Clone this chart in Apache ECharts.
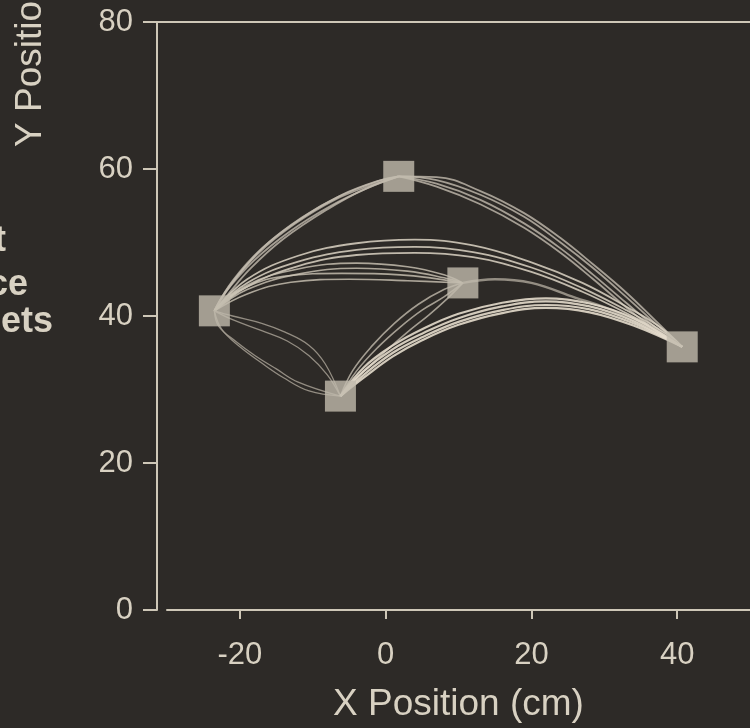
<!DOCTYPE html>
<html>
<head>
<meta charset="utf-8">
<script src="https://cdn.jsdelivr.net/npm/echarts@6/dist/echarts.min.js"></script>
<style>
  html, body { margin: 0; padding: 0; background: #2d2a27; }
  #chart { width: 750px; height: 728px; }
</style>
</head>
<body>
<div id="chart"></div>
<script>
// tick labels
const xTicks = [-20, 0, 20, 40]

// target squares: L, B, T, M, R
const targetX = [-23.5, -6.2, 1.8, 10.6, 40.7]
const targetY = [40.7, 29.1, 59, 44.5, 35.8]

// hand traced movement paths, [x, y] in cm
const pathsLT = [
  [[-23.5, 40.7], [-21.5, 44], [-17.5, 48.5], [-12.5, 52.5], [-7, 55.8], [-2, 57.8], [1.8, 59]],
  [[-23.5, 40.7], [-21, 44.8], [-17, 49.2], [-12, 53], [-6.5, 56.2], [-1.5, 58.2], [1.8, 59]],
  [[-23.5, 40.7], [-22, 43.2], [-18, 47.6], [-13, 51.6], [-7.5, 55], [-2.5, 57.4], [1.8, 59]],
  [[-23.5, 40.7], [-20.5, 45.2], [-16.5, 49.6], [-11.5, 53.4], [-6, 56.5], [-1, 58.4], [1.8, 59]],
  [[-23.5, 40.7], [-22, 42.5], [-18.5, 46.5], [-14, 50.5], [-8, 54.5], [-3, 57.2], [1.8, 59]]
]
const pathsTR = [
  [[1.8, 59], [7, 58.5], [13, 56.5], [19, 53.5], [24, 50], [28.5, 46.5], [33, 42.6], [37, 39], [40.7, 35.8]],
  [[1.8, 59], [7, 58], [13, 55.8], [19, 52.6], [24, 49.2], [28.5, 45.6], [33, 41.8], [37, 38.5], [40.7, 35.8]],
  [[1.8, 59], [7, 58.9], [13, 57], [19, 54], [24, 50.6], [28.5, 47], [33, 43.2], [37, 39.4], [40.7, 35.8]],
  [[1.8, 59], [7, 57.6], [13, 55.2], [19, 52], [24, 48.6], [28.5, 45], [33, 41.2], [37, 38.1], [40.7, 35.8]]
]
const pathsLR = [
  [[-23.5, 40.7], [-19, 45], [-12, 48.2], [-4, 49.9], [4, 50.4], [12, 49.6], [20, 47.3], [27, 44.5], [33, 41.3], [37.5, 38.6], [40.7, 35.8]],
  [[-23.5, 40.7], [-19, 44.5], [-12, 47.4], [-4, 49], [4, 49.4], [12, 48.7], [20, 46.6], [27, 43.8], [33, 40.8], [37.5, 38.2], [40.7, 35.8]],
  [[-23.5, 40.7], [-19, 44], [-12, 46.8], [-4, 48.3], [4, 48.6], [12, 48], [20, 46], [27, 43.3], [33, 40.4], [37.5, 38], [40.7, 35.8]]
]
const pathsLM = [
  [[-23.5, 40.7], [-19, 44.2], [-12, 46.4], [-4, 47.2], [3, 46.7], [8, 45.6], [10.6, 44.5]],
  [[-23.5, 40.7], [-19, 43.6], [-12, 45.7], [-4, 46.5], [3, 46.1], [8, 45.2], [10.6, 44.5]],
  [[-23.5, 40.7], [-19, 43], [-13, 44.6], [-5, 45], [3, 44.8], [10.6, 44.5]],
  [[-23.5, 40.7], [-20, 43.5], [-14, 45.4], [-6, 45.8], [2, 45.6], [10.6, 44.5]]
]
const pathsMR = [
  [[10.6, 44.5], [15, 45], [20, 44.5], [26, 42.5], [30, 41.2], [34, 39.5], [37.5, 37.9], [40.7, 35.8]]
]
const pathsLB = [
  [[-23.5, 40.7], [-21, 40], [-17, 39], [-13.8, 37.8], [-10.5, 36], [-8.3, 33.5], [-6.2, 29.1]],
  [[-23.5, 40.7], [-21, 39.5], [-17, 38], [-13.5, 36.6], [-10.5, 34.6], [-8, 32], [-6.2, 29.1]],
  [[-23.5, 40.7], [-22.9, 38.6], [-20.5, 36.5], [-17.9, 34.6], [-15, 32.8], [-12, 31], [-6.2, 29.1]],
  [[-23.5, 40.7], [-22.5, 38.2], [-20, 35.8], [-17, 33.6], [-14, 31.6], [-10.5, 29.8], [-6.2, 29.1]]
]
const pathsBM = [
  [[-6.2, 29.1], [-4, 32.5], [-1, 35.8], [2, 38.5], [5, 40.8], [8, 42.6], [10.6, 44.5]],
  [[-6.2, 29.1], [-4.5, 32.6], [-1.8, 36], [1.2, 39], [4.5, 41.6], [8, 43.6], [10.6, 44.5]],
  [[-6.2, 29.1], [-3.5, 32], [0, 35.2], [3, 37.8], [6, 40.2], [8.5, 42.4], [10.6, 44.5]]
]
const pathsBR = [
  [[-6.2, 29.1], [-3, 32.5], [1, 35.5], [5, 37.6], [10, 39.7], [16, 41.3], [22, 42], [28, 41.3], [34, 39.3], [40.7, 35.8]],
  [[-6.2, 29.1], [-3, 32], [1, 35], [5, 37.1], [10, 39.2], [16, 40.8], [22, 41.5], [28, 40.9], [34, 39], [40.7, 35.8]],
  [[-6.2, 29.1], [-3, 33], [1, 36], [5, 38.2], [10, 40.3], [16, 41.8], [22, 42.4], [28, 41.7], [34, 39.7], [40.7, 35.8]],
  [[-6.2, 29.1], [-3, 31.6], [1, 34.5], [5, 36.7], [10, 38.8], [16, 40.4], [22, 41.1], [28, 40.5], [34, 38.7], [40.7, 35.8]]
]

const textColor = '#d8d1c2'
const axisColor = '#cec7b7'
const font = "'Liberation Sans', Arial, sans-serif"

const chart = echarts.init(document.getElementById('chart'))

function traceSeries (paths, color, width) {
  return paths.map(p => ({
    type: 'line',
    data: p,
    smooth: 0.4,
    showSymbol: false,
    silent: true,
    z: 2,
    lineStyle: { color: color, width: width }
  }))
}

const series = [].concat(
  traceSeries(pathsLT, 'rgba(195,188,175,0.8)', 1.8),
  traceSeries(pathsTR, 'rgba(195,188,175,0.8)', 1.8),
  traceSeries(pathsLR, 'rgba(220,212,196,0.85)', 1.8),
  traceSeries(pathsLM, 'rgba(205,197,182,0.8)', 1.6),
  traceSeries(pathsMR, 'rgba(160,153,142,0.9)', 2.4),
  traceSeries(pathsLB, 'rgba(165,158,146,0.85)', 1.3),
  traceSeries(pathsBM, 'rgba(185,178,165,0.85)', 1.6),
  traceSeries(pathsBR, 'rgba(228,220,204,0.9)', 2.2)
)

series.push({
  type: 'scatter',
  data: targetX.map((x, i) => [x, targetY[i]]),
  symbol: 'rect',
  symbolSize: 31,
  silent: true,
  z: 5,
  itemStyle: { color: '#c1baad' }
})

chart.setOption({
  animation: false,
  backgroundColor: '#2d2a27',
  textStyle: { fontFamily: font },
  grid: { left: 167, right: -8, top: 22, bottom: 118 },
  xAxis: {
    type: 'value',
    min: -30,
    max: 50,
    name: 'X Position (cm)',
    nameLocation: 'middle',
    nameGap: 76,
    nameTextStyle: { color: textColor, fontSize: 37, fontFamily: font },
    axisLine: { show: true, onZero: false, lineStyle: { color: axisColor, width: 2 } },
    axisTick: { show: true, customValues: xTicks, length: 9, lineStyle: { color: axisColor, width: 2 } },
    axisLabel: { customValues: xTicks, color: textColor, fontSize: 31, margin: 30, fontFamily: font },
    splitLine: { show: false }
  },
  yAxis: {
    type: 'value',
    min: 0,
    max: 80,
    interval: 20,
    offset: 10,
    axisLine: { show: true, onZero: false, lineStyle: { color: axisColor, width: 2 } },
    axisTick: { show: true, length: 14, lineStyle: { color: axisColor, width: 2 } },
    axisLabel: { color: textColor, fontSize: 31, margin: 24, fontFamily: font },
    splitLine: { show: false }
  },
  graphic: [
    { type: 'line', shape: { x1: 157, y1: 22, x2: 750, y2: 22 }, style: { stroke: axisColor, lineWidth: 2 }, silent: true },
    { type: 'text', x: 31, y: 147, rotation: Math.PI / 2,
      style: { text: 'Y Position (cm)', fill: textColor, font: '37px ' + font, textAlign: 'left', textVerticalAlign: 'middle' } },
    { type: 'text', x: 6, y: 241, style: { text: 't', fill: textColor, font: 'bold 36px ' + font, textAlign: 'right', textVerticalAlign: 'middle' } },
    { type: 'text', x: 28, y: 285, style: { text: 'ce', fill: textColor, font: 'bold 36px ' + font, textAlign: 'right', textVerticalAlign: 'middle' } },
    { type: 'text', x: 53, y: 322, style: { text: 'ets', fill: textColor, font: 'bold 36px ' + font, textAlign: 'right', textVerticalAlign: 'middle' } }
  ],
  series: series
})
</script>
</body>
</html>
